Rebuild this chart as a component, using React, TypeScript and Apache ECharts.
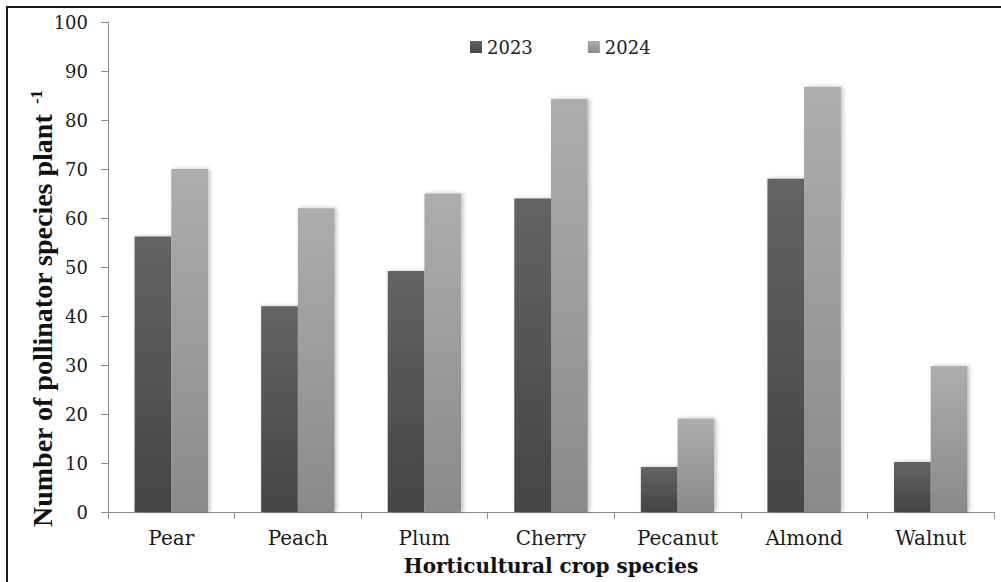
import React, { useEffect, useRef } from "react";
import * as echarts from "echarts";

const categories = ["Pear", "Peach", "Plum", "Cherry", "Pecanut", "Almond", "Walnut"];
const values2023 = [56.2, 42, 49.2, 64, 9.2, 68, 10.2];
const values2024 = [70, 62, 65, 84.3, 19.1, 86.8, 29.8];
const seriesNames = ["2023", "2024"];
const yTicks = { min: 0, max: 100, interval: 10 };

export default function App() {
  const ref = useRef<HTMLDivElement>(null);
  useEffect(() => {
    document.body.style.margin = "0";
    if (!ref.current) return;
    const chart = echarts.init(ref.current, null, { renderer: "svg" });
    const grad = (top: string, bottom: string) =>
      new echarts.graphic.LinearGradient(0, 0, 0, 1, [
        { offset: 0, color: top },
        { offset: 1, color: bottom },
      ]);
    const shadow = {
      shadowBlur: 4,
      shadowOffsetX: 2,
      shadowOffsetY: 0,
      shadowColor: "rgba(0,0,0,0.25)",
    };
    chart.setOption({
      animation: false,
      backgroundColor: "#ffffff",
      grid: {
        left: 108,
        right: 7,
        top: 22,
        bottom: 70,
        containLabel: false,
        outerBoundsMode: "none",
      },
      legend: {
        left: 465,
        top: 33,
        itemWidth: 12,
        itemHeight: 12,
        itemGap: 55,
        icon: "rect",
        textStyle: { fontFamily: "DejaVu Serif", fontSize: 18, color: "#222" },
        data: seriesNames,
      },
      xAxis: {
        type: "category",
        data: categories,
        boundaryGap: true,
        axisLine: { show: true, lineStyle: { color: "#8c8c8c", width: 1 } },
        axisTick: { show: true, alignWithLabel: false, length: 7, lineStyle: { color: "#8c8c8c" } },
        axisLabel: {
          margin: 16,
          fontFamily: "DejaVu Serif",
          fontSize: 20,
          color: "#1a1a1a",
        },
        name: "Horticultural crop species",
        nameLocation: "middle",
        nameGap: 44,
        nameTextStyle: {
          fontFamily: "DejaVu Serif",
          fontWeight: "bold",
          fontSize: 20,
          color: "#111",
        },
      },
      yAxis: {
        type: "value",
        min: yTicks.min,
        max: yTicks.max,
        interval: yTicks.interval,
        splitLine: { show: false },
        axisLine: { show: true, lineStyle: { color: "#8c8c8c", width: 1 } },
        axisTick: { show: true, length: 7, lineStyle: { color: "#8c8c8c" } },
        axisLabel: {
          margin: 20,
          fontFamily: "DejaVu Serif",
          fontSize: 18,
          color: "#1a1a1a",
        },
      },
      graphic: [
        {
          type: "line",
          shape: { x1: 6, y1: 7, x2: 1001, y2: 7 },
          style: { stroke: "#1a1a1a", lineWidth: 2 },
          silent: true,
          z: 100,
        },
        {
          type: "line",
          shape: { x1: 7, y1: 6, x2: 7, y2: 582 },
          style: { stroke: "#1a1a1a", lineWidth: 2 },
          silent: true,
          z: 100,
        },
        {
          type: "text",
          x: 42,
          y: 527,
          rotation: Math.PI / 2,
          style: {
            text: "Number of pollinator species plant",
            font: "bold 28px 'Liberation Serif'",
            fill: "#111",
            align: "left",
            verticalAlign: "middle",
          },
        },
        {
          type: "text",
          x: 36,
          y: 97,
          rotation: Math.PI / 2,
          style: {
            text: "-1",
            font: "bold 17px 'Liberation Serif'",
            fill: "#111",
            align: "center",
            verticalAlign: "middle",
          },
        },
      ],
      series: [
        {
          name: seriesNames[0],
          type: "bar",
          data: values2023,
          barGap: "0%",
          barCategoryGap: "42%",
          itemStyle: { color: grad("#646464", "#454545"), ...shadow },
        },
        {
          name: seriesNames[1],
          type: "bar",
          data: values2024,
          barGap: "0%",
          barCategoryGap: "42%",
          itemStyle: { color: grad("#adadad", "#8a8a8a"), ...shadow },
        },
      ],
    });
    return () => chart.dispose();
  }, []);
  return (
    <div
      ref={ref}
      style={{ position: "fixed", left: 0, top: 0, width: 1001, height: 582 }}
    />
  );
}
